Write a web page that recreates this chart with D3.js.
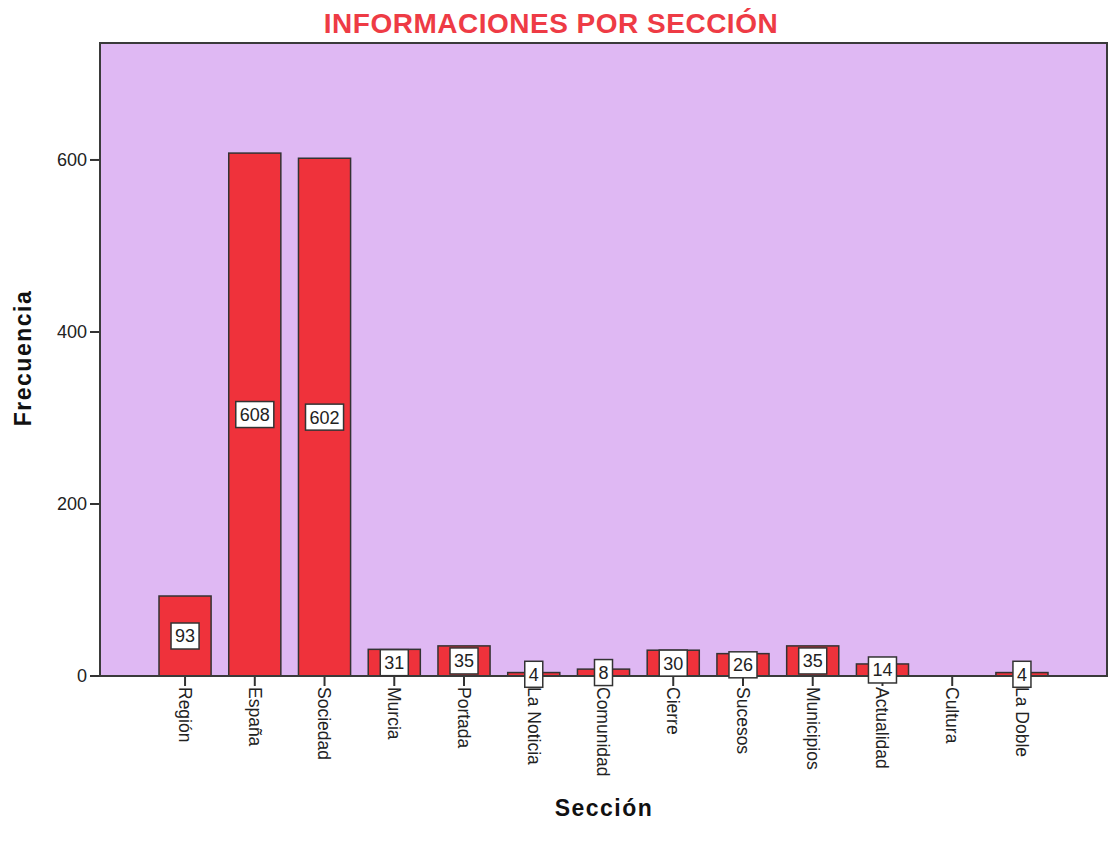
<html>
<head>
<script src="https://d3js.org/d3.v7.min.js"></script>
<style>
    body { margin: 0; background: #fff; }
    text { font-family: "Liberation Sans", Arial, sans-serif; }
</style>
</head>
<body>
<svg id="chart" width="1115" height="841"></svg>
<script>
    // data
    let secciones = ["Región", "España", "Sociedad", "Murcia", "Portada", "La Noticia", "Comunidad",
                     "Cierre", "Sucesos", "Municipios", "Actualidad", "Cultura", "La Doble"]
    let frecuencias = [93, 608, 602, 31, 35, 4, 8, 30, 26, 35, 14, 0, 4]
    let yTicks = [0, 200, 400, 600]

    let svg = d3.select("#chart")

    let plotLeft = 100, plotRight = 1107, plotTop = 43, plotBottom = 676

    let x = d3.scaleBand()
        .domain(secciones)
        .range([plotLeft, plotRight])
        .paddingInner(0.253)
        .paddingOuter(0.846)

    let y = d3.scaleLinear()
        .domain([0, 736])
        .range([plotBottom, plotTop])

    // plot background
    svg.append("rect")
        .attr("x", plotLeft).attr("y", plotTop)
        .attr("width", plotRight - plotLeft).attr("height", plotBottom - plotTop)
        .attr("fill", "#dfb8f3")

    // title
    svg.append("text")
        .attr("x", 551).attr("y", 33)
        .attr("text-anchor", "middle")
        .attr("fill", "#ee3b45")
        .style("font-size", "28px").style("font-weight", "bold")
        .style("letter-spacing", "0.5px")
        .text("INFORMACIONES POR SECCIÓN")

    // y axis ticks
    let yAxis = svg.append("g")
    yAxis.selectAll("line")
        .data(yTicks)
        .enter().append("line")
        .attr("x1", plotLeft - 10).attr("x2", plotLeft)
        .attr("y1", d => y(d)).attr("y2", d => y(d))
        .attr("stroke", "#333").attr("stroke-width", 2)
    yAxis.selectAll("text")
        .data(yTicks)
        .enter().append("text")
        .attr("x", plotLeft - 13).attr("y", d => y(d))
        .attr("dy", "0.35em")
        .attr("text-anchor", "end")
        .attr("fill", "#222")
        .style("font-size", "18px")
        .text(d => d)

    // x axis ticks + rotated labels
    let xAxis = svg.append("g")
    xAxis.selectAll("line")
        .data(secciones)
        .enter().append("line")
        .attr("x1", d => x(d) + x.bandwidth() / 2).attr("x2", d => x(d) + x.bandwidth() / 2)
        .attr("y1", plotBottom).attr("y2", plotBottom + 10)
        .attr("stroke", "#333").attr("stroke-width", 2)
    xAxis.selectAll("text")
        .data(secciones)
        .enter().append("text")
        .attr("transform", d => "translate(" + (x(d) + x.bandwidth() / 2) + "," + (plotBottom + 11) + ") rotate(90)")
        .attr("dy", "0.35em")
        .attr("fill", "#222")
        .style("font-size", "17.5px")
        .text(d => d)

    // bars
    svg.append("g")
        .selectAll("rect")
        .data(secciones)
        .enter().append("rect")
        .attr("x", d => x(d))
        .attr("width", x.bandwidth())
        .attr("y", (d, i) => y(frecuencias[i]))
        .attr("height", (d, i) => y(0) - y(frecuencias[i]))
        .attr("fill", "#ef323b")
        .attr("stroke", "#333")
        .attr("stroke-width", 1.5)

    // frame
    svg.append("rect")
        .attr("x", plotLeft).attr("y", plotTop)
        .attr("width", plotRight - plotLeft).attr("height", plotBottom - plotTop)
        .attr("fill", "none")
        .attr("stroke", "#3a3a3a").attr("stroke-width", 2)

    // value labels in white boxes
    let labels = svg.append("g")
        .selectAll("g")
        .data(secciones.map((s, i) => ({ s: s, v: frecuencias[i] })).filter(d => d.v > 0))
        .enter().append("g")
        .attr("transform", d => "translate(" + (x(d.s) + x.bandwidth() / 2) + "," + y(d.v / 2) + ")")

    labels.append("rect")
        .attr("fill", "#fff")
        .attr("stroke", "#333")
        .attr("stroke-width", 1.5)

    labels.append("text")
        .attr("text-anchor", "middle")
        .attr("dy", "0.36em")
        .attr("fill", "#222")
        .style("font-size", "18px")
        .text(d => d.v)

    labels.each(function() {
        let g = d3.select(this)
        let w = g.select("text").node().getComputedTextLength() + 8
        g.select("rect")
            .attr("x", -w / 2).attr("y", -13)
            .attr("width", w).attr("height", 26)
    })

    // axis titles
    svg.append("text")
        .attr("transform", "translate(31,358) rotate(-90)")
        .attr("text-anchor", "middle")
        .attr("fill", "#111")
        .style("font-size", "23px").style("font-weight", "bold")
        .style("letter-spacing", "1.5px")
        .text("Frecuencia")

    svg.append("text")
        .attr("x", 604).attr("y", 816)
        .attr("text-anchor", "middle")
        .attr("fill", "#111")
        .style("font-size", "23px").style("font-weight", "bold")
        .style("letter-spacing", "1.5px")
        .text("Sección")
</script>
</body>
</html>
